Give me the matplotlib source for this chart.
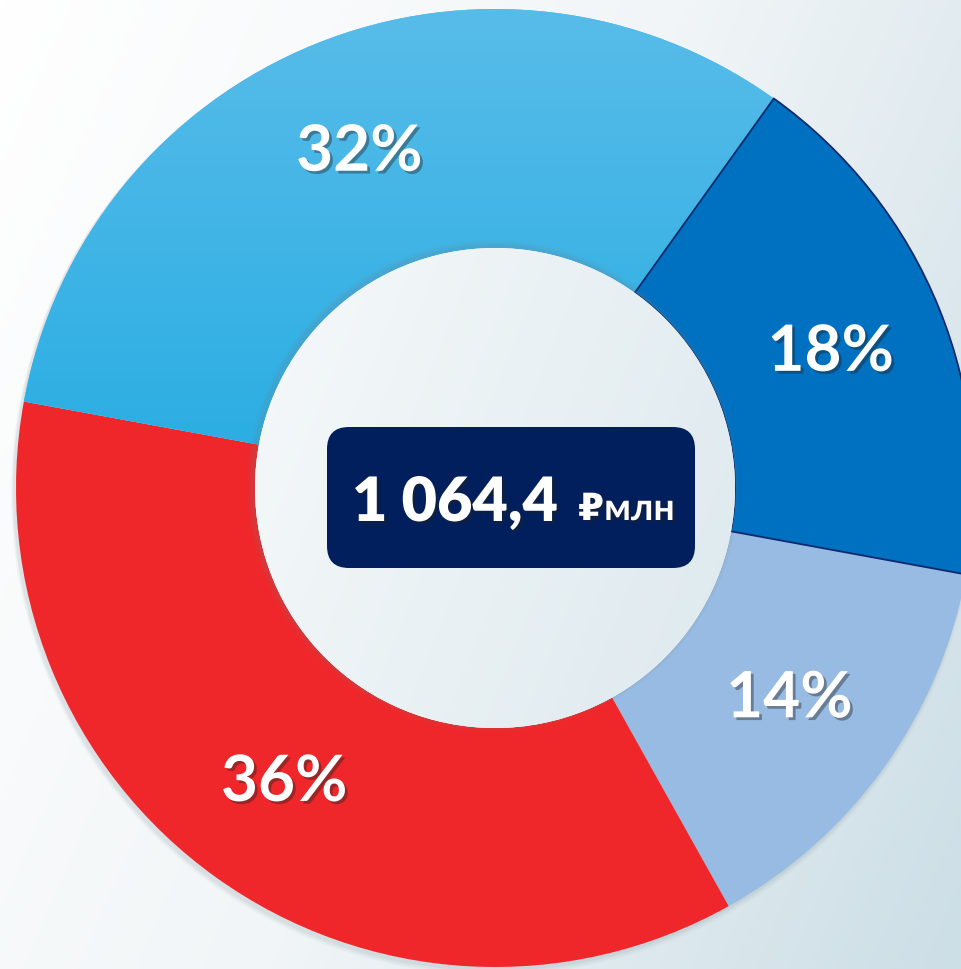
# Donut chart: revenue structure, total 1 064,4 mln rub

import numpy as np
import matplotlib.pyplot as plt
import matplotlib.patheffects as pe
from matplotlib.patches import Circle, FancyBboxPatch
from matplotlib.colors import LinearSegmentedColormap

# data (clockwise from the top-right segment)
shares = [18, 14, 36, 32]
colors = ["#0070C0", "#97BBE2", "#F0272A", "#4DB8E8"]
total_text = "1 064,4"
unit_text = "₽млн"

W, H = 961, 970
cx, cy = 495, H - 489
R_out, R_in = 479, 240

fig = plt.figure(figsize=(W / 100, H / 100), dpi=100)
ax = fig.add_axes([0, 0, 1, 1])

# background gradient
yy, xx = np.mgrid[0:1:300j, 0:1:300j]
g = (0.8 * xx + 0.35 * yy) / 1.15
bg_cmap = LinearSegmentedColormap.from_list("bg", ["#FFFFFF", "#F1F5F7", "#CCDEE6"])
ax.imshow(g, cmap=bg_cmap, extent=(0, W, 0, H), origin="upper", zorder=0, aspect="auto")

# soft shadow under the ring
for i, a in enumerate([0.10, 0.08, 0.06]):
    ax.add_patch(Circle((cx - 2, cy - 3 - i), R_out + 1 + i, color="#7F9299", alpha=a, lw=0, zorder=0.5))

shadow = [pe.SimplePatchShadow(offset=(2, -2), shadow_rgbFace="#222222", alpha=0.4), pe.Normal()]
font = ["Lato", "DejaVu Sans"]

wedges, texts, pct = ax.pie(
    shares, colors=colors, startangle=54.4, counterclock=False,
    radius=R_out, center=(cx, cy),
    wedgeprops=dict(width=R_out - R_in, linewidth=0),
    autopct=lambda p: "{:.0f}%".format(p), pctdistance=0.756,
    textprops=dict(color="white", fontsize=46, fontweight="bold", family=font),
)
for t in pct:
    t.set_path_effects(shadow)
    t.set_zorder(6)

# edge on dark blue segment
wedges[0].set_edgecolor("#0B2A6E")
wedges[0].set_linewidth(1.3)
wedges[0].set_zorder(3)

# vertical gradient on the light blue segment
grad = np.linspace(0, 1, 300).reshape(-1, 1)
lb_cmap = LinearSegmentedColormap.from_list("lb", ["#58BCE9", "#22ABE2"])
im = ax.imshow(grad, cmap=lb_cmap, extent=(0, W, cy - 50, cy + R_out), origin="upper",
               aspect="auto", zorder=2)
im.set_clip_path(wedges[3])

# hole with shadow and gradient
for i, a in enumerate([0.10, 0.07, 0.05]):
    ax.add_patch(Circle((cx - 2, cy + 2), R_in + 2 + i * 2, color="#6E8088", alpha=a, lw=0, zorder=4))
hole = Circle((cx, cy), R_in, color="#EEF4F6", lw=0, zorder=4.5)
ax.add_patch(hole)
hole_cmap = LinearSegmentedColormap.from_list("hole", ["#F6F9FA", "#DDE9EE"])
hole_g = (0.75 * xx + 0.3 * yy) / 1.05
him = ax.imshow(hole_g, cmap=hole_cmap, extent=(cx - R_in, cx + R_in, cy - R_in, cy + R_in),
                origin="upper", aspect="auto", zorder=4.6)
him.set_clip_path(hole)

# center label box
box = FancyBboxPatch((327, H - 569), 368, 141, boxstyle="round,pad=0,rounding_size=22",
                     fc="#001F5C", ec="none", zorder=5)
ax.add_patch(box)
ax.text(352, H - 522, total_text, color="white", fontsize=44, fontweight="heavy",
        family=font, ha="left", va="baseline", zorder=6, path_effects=shadow)
ax.text(578, H - 521, unit_text, color="white", fontsize=27, fontweight="bold",
        family=font, ha="left", va="baseline", zorder=6, path_effects=shadow)

ax.set_xlim(0, W)
ax.set_ylim(0, H)
ax.set_aspect("equal")
ax.axis("off")

plt.savefig("out.png", dpi=100)
